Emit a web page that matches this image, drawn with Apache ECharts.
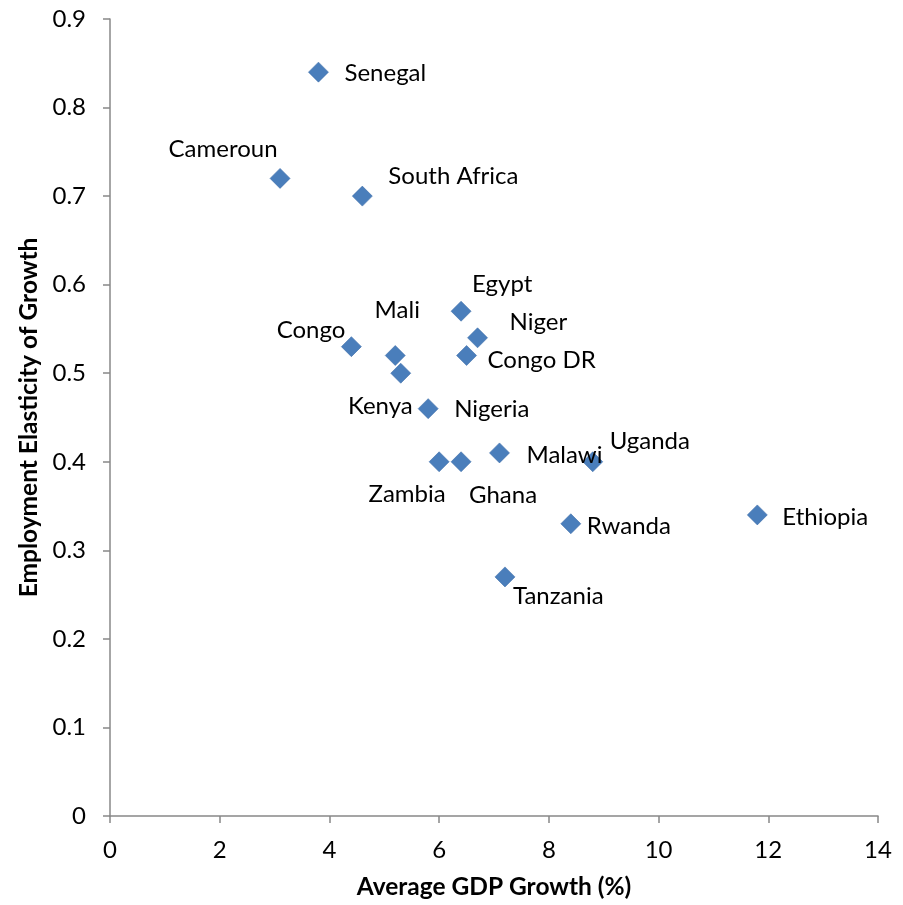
<!DOCTYPE html>
<html>
<head>
<meta charset="utf-8">
<title>Employment Elasticity of Growth vs Average GDP Growth</title>
<script src="https://cdn.jsdelivr.net/npm/echarts@6/dist/echarts.min.js"></script>
<style>
  html, body { margin: 0; padding: 0; background: #fff; }
  #chart { width: 903px; height: 905px; }
</style>
</head>
<body>
<div id="chart"></div>
<script>
// Countries and their values
const countries = ['Senegal', 'Cameroun', 'South Africa', 'Egypt', 'Niger', 'Congo DR', 'Mali', 'Congo',
  'Kenya', 'Nigeria', 'Zambia', 'Ghana', 'Malawi', 'Uganda', 'Rwanda', 'Tanzania', 'Ethiopia'];
const gdpGrowth = [3.8, 3.1, 4.6, 6.4, 6.7, 6.5, 5.2, 4.4, 5.3, 5.8, 6.0, 6.4, 7.1, 8.8, 8.4, 7.2, 11.8];
const elasticity = [0.84, 0.72, 0.70, 0.57, 0.54, 0.52, 0.52, 0.53, 0.50, 0.46, 0.40, 0.40, 0.41, 0.40, 0.33, 0.27, 0.34];

// Axis tick values
const xTicks = [0, 2, 4, 6, 8, 10, 12, 14];
const yTicks = [0, 0.1, 0.2, 0.3, 0.4, 0.5, 0.6, 0.7, 0.8, 0.9];

// Where each country name sits around its marker: [align, dx, dy]
const labelPlacement = {
  'Senegal': ['left', 26, 1],
  'Cameroun': ['center', -57, -29],
  'South Africa': ['left', 26, -20],
  'Egypt': ['left', 11, -27],
  'Niger': ['left', 32, -16],
  'Congo DR': ['left', 21, 5],
  'Mali': ['center', 2, -45],
  'Congo': ['right', -6, -16],
  'Kenya': ['right', 12, 33],
  'Nigeria': ['left', 26, 1],
  'Zambia': ['center', -32, 32],
  'Ghana': ['center', 42, 33],
  'Malawi': ['left', 27, 2],
  'Uganda': ['left', 17, -21],
  'Rwanda': ['left', 16, 2],
  'Tanzania': ['left', 8, 19],
  'Ethiopia': ['left', 25, 2]
};

const FONT = 'Lato';
const axisGray = '#888888';

const points = countries.map((name, i) => {
  const p = labelPlacement[name];
  return {
    name: name,
    value: [gdpGrowth[i], elasticity[i]],
    label: {
      show: true,
      formatter: name,
      position: 'inside',
      align: p[0],
      verticalAlign: 'middle',
      offset: [p[1], p[2]]
    }
  };
});

const chart = echarts.init(document.getElementById('chart'), null, { renderer: 'canvas' });

chart.setOption({
  animation: false,
  backgroundColor: '#ffffff',
  grid: { left: 110, right: 25, top: 19, bottom: 88, containLabel: false },
  xAxis: {
    type: 'value',
    min: xTicks[0],
    max: xTicks[xTicks.length - 1],
    interval: xTicks[1] - xTicks[0],
    name: 'Average GDP Growth (%)',
    nameLocation: 'middle',
    nameGap: 59,
    nameTextStyle: { fontFamily: FONT, fontWeight: 'bold', fontSize: 24.5, color: '#000' },
    axisLine: { show: true, onZero: false, lineStyle: { color: axisGray, width: 1.5 } },
    axisTick: { show: true, inside: false, length: 7, lineStyle: { color: axisGray, width: 1.5 } },
    axisLabel: { fontFamily: FONT, fontSize: 24, color: '#000', margin: 22 },
    splitLine: { show: false }
  },
  yAxis: {
    type: 'value',
    min: yTicks[0],
    max: yTicks[yTicks.length - 1],
    interval: 0.1,
    name: 'Employment Elasticity of Growth',
    nameLocation: 'middle',
    nameRotate: 90,
    nameGap: 68,
    nameTextStyle: { fontFamily: FONT, fontWeight: 'bold', fontSize: 24.5, color: '#000' },
    axisLine: { show: true, onZero: false, lineStyle: { color: axisGray, width: 1.5 } },
    axisTick: { show: true, inside: false, length: 7, lineStyle: { color: axisGray, width: 1.5 } },
    axisLabel: {
      fontFamily: FONT, fontSize: 24, color: '#000', margin: 24,
      formatter: v => String(Math.round(v * 10) / 10)
    },
    splitLine: { show: false }
  },
  series: [{
    type: 'scatter',
    symbol: 'diamond',
    symbolSize: 20,
    itemStyle: { color: '#4a7ebb', borderColor: '#3f6fa9', borderWidth: 0.6, opacity: 1 },
    label: { fontFamily: FONT, fontSize: 24, color: '#000' },
    emphasis: { disabled: true },
    data: points
  }]
});
</script>
</body>
</html>
